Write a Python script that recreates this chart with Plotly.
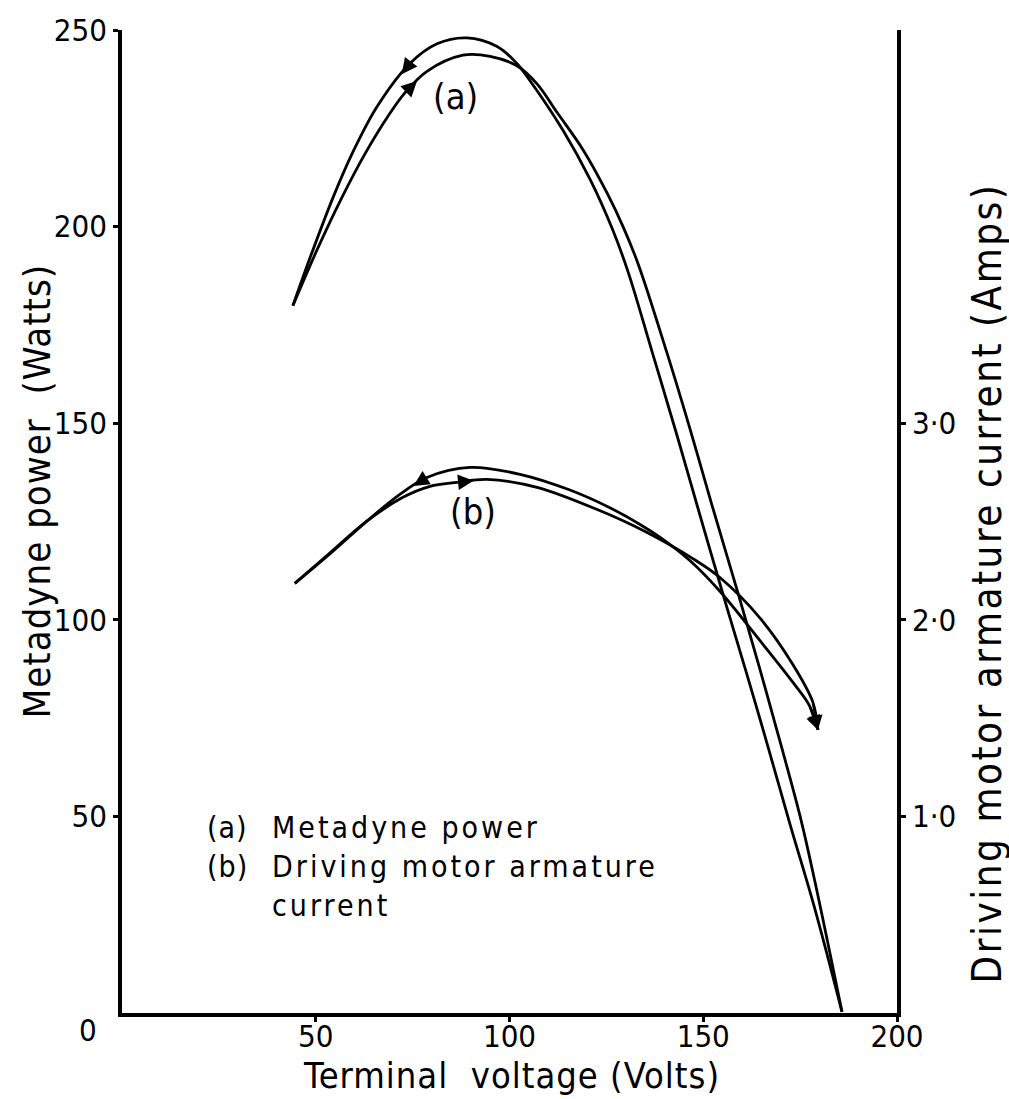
import plotly.graph_objects as go

# ---- data ----
# (a) Metadyne power (W) against terminal voltage (V): the two branches of the loop
a1_volts = [44.1, 48.5, 54.5, 59.6, 65.8, 74.3, 81.3, 89.0, 96.8, 101.9, 105.3, 113.8,
            120.8, 126.5, 130.6, 137.0, 143.2, 148.6, 155.1, 161.3, 165.9, 172.4, 178.8, 185.8]
a1_watts = [179.9, 192.0, 207.5, 219.0, 230.5, 241.5, 246.5, 248.0, 245.8, 241.5, 237.1, 224.5,
            212.0, 199.5, 188.5, 167.5, 147.0, 128.5, 106.5, 86.0, 70.5, 48.0, 26.5, 0.3]
a2_volts = [44.1, 50.3, 56.8, 62.7, 68.6, 73.0, 78.7, 88.0, 95.0, 101.9, 107.1, 112.3,
            119.0, 125.2, 129.3, 133.2, 140.6, 146.6, 152.3, 159.5, 164.6, 168.0, 175.0, 178.8, 185.8]
a2_watts = [179.9, 194.0, 207.5, 218.5, 228.0, 234.0, 239.5, 243.6, 243.3, 240.9, 236.3, 229.0,
            219.5, 208.5, 200.0, 190.5, 168.0, 148.5, 129.0, 105.0, 87.5, 75.5, 50.0, 33.5, 0.3]

# (b) Driving motor armature current (A) against terminal voltage (V)
b1_volts = [44.6, 53.7, 63.2, 71.7, 78.7, 89.8, 102.7, 115.6, 125.9, 133.7, 138.8, 146.6,
            154.3, 164.6, 173.2, 177.5, 179.6]
b1_amps = [2.185, 2.336, 2.502, 2.638, 2.724, 2.775, 2.740, 2.660, 2.570, 2.485, 2.420, 2.300,
           2.145, 1.895, 1.680, 1.560, 1.440]
b2_volts = [44.6, 53.7, 63.2, 72.5, 79.5, 86.5, 94.2, 107.1, 123.4, 131.9, 138.8, 146.6,
            154.3, 164.6, 173.2, 178.3, 179.6]
b2_amps = [2.185, 2.341, 2.502, 2.623, 2.679, 2.699, 2.714, 2.674, 2.555, 2.480, 2.410, 2.320,
           2.215, 2.010, 1.770, 1.580, 1.440]

x_ticks = [50, 100, 150, 200]
x_ticktext = ["50", "100", "150", "200"]
y_ticks = [50, 100, 150, 200, 250]
y_ticktext = ["50", "100", "150", "200", "250"]
y2_ticks = [1, 2, 3]
y2_ticktext = ["1·0", "2·0", "3·0"]

key_tags = ["(a)", "(b)"]
key_lines = ["Metadyne power", "Driving motor armature", "current"]

FONT = "DejaVu Sans Condensed, DejaVu Sans, sans-serif"
LINE = dict(color="black", width=2.8, shape="spline", smoothing=1.0)

fig = go.Figure()
fig.add_trace(go.Scatter(x=a1_volts, y=a1_watts, mode="lines", line=LINE,
                         hoverinfo="skip", showlegend=False))
fig.add_trace(go.Scatter(x=a2_volts, y=a2_watts, mode="lines", line=LINE,
                         hoverinfo="skip", showlegend=False))
fig.add_trace(go.Scatter(x=b1_volts, y=b1_amps, mode="lines", line=LINE, yaxis="y2",
                         hoverinfo="skip", showlegend=False))
fig.add_trace(go.Scatter(x=b2_volts, y=b2_amps, mode="lines", line=LINE, yaxis="y2",
                         hoverinfo="skip", showlegend=False))


def arrow(xs, ys, i_from, i_to, f, yref="y", size=1.3):
    """Arrowhead sitting on a curve, pointing from point i_from towards point i_to."""
    hx = xs[i_from] + f * (xs[i_to] - xs[i_from])
    hy = ys[i_from] + f * (ys[i_to] - ys[i_from])
    fig.add_annotation(x=hx, y=hy, ax=xs[i_from], ay=ys[i_from], xref="x", yref=yref,
                       axref="x", ayref=yref, text="", showarrow=True,
                       arrowhead=2, arrowsize=size, arrowwidth=2.4, arrowcolor="black")


arrow(a1_volts, a1_watts, 5, 4, 0.25)
arrow(a2_volts, a2_watts, 5, 6, 0.55)
arrow(b1_volts, b1_amps, 4, 3, 0.5, "y2")
arrow(b2_volts, b2_amps, 5, 6, 0.55, "y2")
arrow(b1_volts, b1_amps, len(b1_volts) - 2, len(b1_volts) - 1, 1.0, "y2", 1.2)
arrow(b2_volts, b2_amps, len(b2_volts) - 2, len(b2_volts) - 1, 1.0, "y2", 1.2)


def spaced(s, px):
    return '<span style="letter-spacing:%spx">%s</span>' % (px, s)


# curve labels
fig.add_annotation(x=a2_volts[7] - 2, y=a2_watts[7] - 10.6, xref="x", yref="y", text="(a)",
                   showarrow=False, yanchor="middle",
                   font=dict(family=FONT, size=36, color="black"))
fig.add_annotation(x=b2_volts[6] - 3.6, y=b2_amps[6] - 0.161, xref="x", yref="y2", text="(b)",
                   showarrow=False, yanchor="middle",
                   font=dict(family=FONT, size=36, color="black"))

# key (one text block for the tags, one for the descriptions)
key_font = dict(family=FONT, size=30, color="black")
key_top = (1013 - 806) / 991
fig.add_annotation(x=(205 - 122) / 775, y=key_top, xref="paper", yref="paper",
                   text="<br>".join(spaced(t, 1) for t in key_tags), align="left",
                   showarrow=False, xanchor="left", yanchor="top", font=key_font)
fig.add_annotation(x=(270 - 122) / 775, y=key_top, xref="paper", yref="paper",
                   text="<br>".join(spaced(t, 3) for t in key_lines), align="left",
                   showarrow=False, xanchor="left", yanchor="top", font=key_font)

# axis titles
fig.add_annotation(x=(37 - 122) / 775, y=(1013 - 487) / 991, xref="paper", yref="paper",
                   text=spaced("Metadyne power  (Watts)", 1), textangle=-90, showarrow=False,
                   xanchor="center", yanchor="middle",
                   font=dict(family=FONT, size=38, color="black"))
fig.add_annotation(x=(987 - 122) / 775, y=(1013 - 580) / 991, xref="paper", yref="paper",
                   text=spaced("Driving motor armature current (Amps)", 2.5), textangle=-90,
                   showarrow=False, xanchor="center", yanchor="middle",
                   font=dict(family=FONT, size=40, color="black"))
fig.add_annotation(x=(512 - 122) / 775, y=(1013 - 1076) / 991, xref="paper", yref="paper",
                   text=spaced("Terminal  voltage (Volts)", 1), showarrow=False,
                   xanchor="center", yanchor="middle",
                   font=dict(family=FONT, size=36, color="black"))
fig.add_annotation(x=(88 - 122) / 775, y=(1013 - 1030) / 991, xref="paper", yref="paper",
                   text="0", showarrow=False, xanchor="center", yanchor="middle",
                   font=dict(family=FONT, size=31, color="black"))

axis_common = dict(showline=True, linecolor="black", linewidth=3.5, showgrid=False,
                   zeroline=False, ticks="outside", ticklen=5, tickwidth=2.5,
                   tickcolor="black", tickfont=dict(family=FONT, size=31, color="black"))

fig.update_layout(
    width=1009, height=1099,
    margin=dict(l=122, r=112, t=22, b=86),
    paper_bgcolor="white", plot_bgcolor="white",
    xaxis=dict(range=[0, 200], tickvals=x_ticks, ticktext=x_ticktext,
               ticklabelstandoff=-12, **axis_common),
    yaxis=dict(range=[0, 250], tickvals=y_ticks, ticktext=y_ticktext, **axis_common),
    yaxis2=dict(range=[0, 5], tickvals=y2_ticks, ticktext=y2_ticktext, overlaying="y",
                side="right", **axis_common),
)

fig.write_html("out.html")
